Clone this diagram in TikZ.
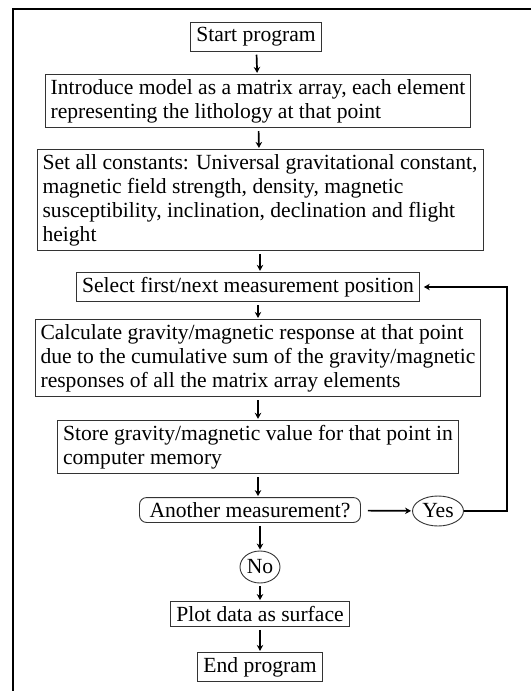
\documentclass[tikz,border=0pt]{standalone}
\usepackage{fontspec}
\setmainfont{Liberation Serif}
\usetikzlibrary{shapes.geometric,arrows.meta}
\tikzset{
  box/.style={draw=black!80, line width=0.9pt, align=left, inner xsep=5.5pt, inner ysep=4.8pt},
  query/.style={box, rounded corners=7pt, inner xsep=10pt},
  answer/.style={draw=black!80, line width=0.9pt, ellipse, inner sep=0pt},
  flow/.style={line width=1.7pt, -{Stealth[length=6pt,width=6.5pt]}, shorten <=3pt, shorten >=1pt},
}
\begin{document}
\begin{tikzpicture}[x=1pt,y=-1pt]
  \fontsize{21.6}{24}\selectfont
  \useasboundingbox (0,0) rectangle (531,691);
  \draw[line width=2.5pt] (13,691) -- (13,9) -- (531,9);

  \node[box] (S) at (256,37) {Start program};
  \node[box] (M) at (258,101) {Introduce model as a matrix array, each element\\
    representing the lithology at that point};
  \node[box] (K) at (260,200) {Set all constants: Universal gravitational constant,\\
    magnetic field strength, density, magnetic\\
    susceptibility, inclination, declination and flight\\
    height};
  \node[box] (P) at (248,287) {Select first/next measurement position};
  \node[box] (C) at (258,358) {Calculate gravity/magnetic response at that point\\
    due to the cumulative sum of the gravity/magnetic\\
    responses of all the matrix array elements};
  \node[box] (V) at (258,447) {Store gravity/magnetic value for that point in\\
    computer memory};
  \node[query] (Q) at (250,510) {Another measurement?};
  \node[answer, minimum width=51pt, minimum height=30pt] (Y) at (438,511) {Yes};
  \node[answer, minimum width=40pt, minimum height=32pt] (N) at (260,567) {No};
  \node[box] (D) at (260,614) {Plot data as surface};
  \node[box] (E) at (260,667) {End program};
  \coordinate (loop) at (507,0);

  \draw[flow] (S) -- (M);
  \draw[flow] (M) -- (K);
  \draw[flow] (K.south) -- (K.south |- P.north);
  \draw[flow] (C.north |- P.south) -- (C.north);
  \draw[flow] (C) -- (V);
  \draw[flow] (V.south) -- (V.south |- Q.north);
  \draw[flow] (N.north |- Q.south) -- (N);
  \draw[flow] (N) -- (D);
  \draw[flow] (D) -- (E);
  \draw[flow, shorten <=7pt] (Q) -- (Y);
  \draw[line width=1.7pt, -{Stealth[length=6pt,width=6.5pt]}, shorten >=4pt]
    (Y) -- (Y -| loop) |- (P);
\end{tikzpicture}
\end{document}
